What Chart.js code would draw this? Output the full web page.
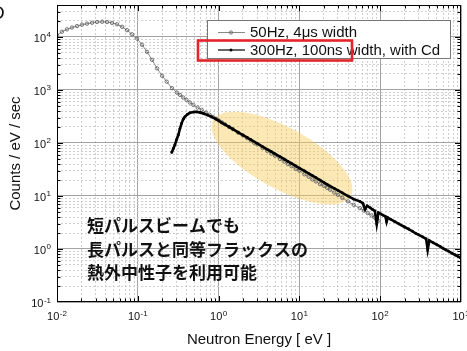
<!DOCTYPE html>
<html>
<head>
<meta charset="utf-8">
<script src="https://cdn.jsdelivr.net/npm/chart.js@4/dist/chart.umd.min.js"></script>
<style>
  html, body { margin: 0; padding: 0; background: #ffffff; }
  #wrap { width: 467px; height: 351px; position: relative; }
</style>
</head>
<body>
<div id="wrap"><canvas id="c" width="467" height="351"></canvas></div>
<script>
// ---- spectrum data: neutron energy [eV] and counts / eV / sec ----
const energy50Hz = [
  0.0100, 0.0115, 0.0133, 0.0153, 0.0177, 0.0204, 0.0235, 0.0272, 0.0313, 0.0362,
  0.0416, 0.0480, 0.0553, 0.0640, 0.0735, 0.0850, 0.098, 0.113, 0.130, 0.150,
  0.173, 0.200, 0.228, 0.265, 0.305, 0.333, 0.365, 0.400, 0.440, 0.486,
  0.550, 0.618, 0.700, 0.775, 0.850, 0.925, 1.00, 1.10, 1.20, 1.35,
  1.50, 1.75, 2.00, 2.25, 2.50, 2.75, 3.00, 3.50, 4.00, 4.50,
  5.00, 5.75, 6.50, 7.20, 8.00, 9.00, 10.0, 11.5, 13.0, 14.5,
  16.0, 18.0, 20.0, 22.0, 24.0, 27.0, 30.0, 34.0, 40.0, 47.0,
  56.0, 63.0, 70.0, 78.0, 85.0, 90.0, 95.0
];
const counts50Hz = [
  10700, 12500, 13900, 15000, 16000, 17000, 17800, 18500, 19100, 19300,
  19100, 18400, 17300, 15500, 13400, 11200, 9300, 7100, 5240, 3700,
  2550, 1850, 1430, 1080, 890, 805, 720, 650, 580, 523,
  465, 422, 375, 340, 310, 287, 267, 244, 225, 200,
  183, 156, 139, 123, 112, 101, 94, 80, 71, 63,
  57.5, 49.8, 44.5, 40.1, 36.5, 32.4, 30, 25.6, 23, 20.5,
  18.8, 16.7, 15.5, 14.2, 13.1, 11.6, 10.5, 9.2, 7.9, 6.8,
  5.9, 5.3, 4.75, 4.3, 3.95, 3.65, 3.4
];
const energy300Hz = [
  0.263, 0.275, 0.288, 0.302, 0.317, 0.332, 0.348, 0.365, 0.382, 0.410,
  0.442, 0.490, 0.535, 0.590, 0.646, 0.730, 0.820, 0.920, 1.00, 1.10,
  1.20, 1.35, 1.50, 1.75, 2.00, 2.25, 2.50, 3.00, 3.50, 4.00,
  4.50, 5.00, 5.75, 6.50, 7.20, 8.00, 9.00, 10.0, 11.5, 13.0,
  14.5, 16.0, 18.0, 20.0, 22.0, 24.0, 27.0, 30.0, 34.0, 40.0,
  47.0, 56.0, 61.0, 65.0, 69.0, 75.0, 80.0, 86.0, 90.6, 95.0,
  100, 108, 116, 120, 124, 135, 150, 170, 200, 225,
  250, 275, 300, 335, 370, 387, 405, 450, 500, 550,
  600, 650, 700, 775, 850, 925, 1000
];
const counts300Hz = [
  66, 78, 92, 115, 141, 185, 234, 280, 311, 345,
  370, 383, 386, 375, 360, 335, 311, 284, 264, 240,
  222, 200, 182, 158, 141, 127, 115, 98, 85.5, 75.9,
  68.4, 62.2, 55, 49.3, 45, 41, 36.9, 33.6, 29.7, 26.6,
  24.1, 22.1, 19.9, 18.1, 16.6, 15.3, 13.9, 12.7, 11.4, 9.96,
  8.7, 7.9, 7.3, 5.6, 6.5, 6.0, 5.6, 5.2, 2.95, 4.85,
  4.66, 4.37, 4.11, 3.25, 3.89, 3.62, 3.31, 2.98, 2.60, 2.38,
  2.16, 1.97, 1.85, 1.69, 1.55, 0.96, 1.44, 1.32, 1.21, 1.12,
  1.03, 0.96, 0.91, 0.83, 0.77, 0.72, 0.67
];

const seriesLabels = ['50Hz, 4\u03bcs width', '300Hz, 100ns width, with Cd'];

// axis ranges and labelled decades (10^n)
const xMin = 0.01, xMax = 1000;
const yMin = 0.1, yMax = 40000;
const xDecades = [-2, -1, 0, 1, 2, 3];
const yDecades = [-1, 0, 1, 2, 3, 4];
const xTitle = 'Neutron Energy [ eV ]';
const yTitle = 'Counts / eV / sec';

// highlighted epithermal band: ends of the long axis (energy, counts)
const bandEnergy = [0.855, 43.4];
const bandCounts = [268, 10.1];

const noteLines = ['短パルスビームでも', '長パルスと同等フラックスの', '熱外中性子を利用可能'];

// ---- helpers ----
function logTicks(decades, max) {
  const out = [];
  decades.forEach(d => {
    const base = Math.pow(10, d);
    for (let m = 1; m <= 9; m++) {
      const v = m * base;
      if (v <= max * 1.0000001) out.push(v);
    }
  });
  return out;
}
function isMajor(v) {
  const l = Math.log10(v);
  return Math.abs(l - Math.round(l)) < 1e-9;
}
function pairs(xs, ys) { return xs.map((x, i) => ({ x: x, y: ys[i] })); }

const FONT = '"Liberation Sans", Arial, sans-serif';

function drawPow(ctx, exp, x, y, mode) {
  // "10" with a raised exponent; mode 'center' (x axis) or 'right' (y axis)
  const base = '10', sup = String(exp);
  ctx.font = '11px ' + FONT;
  const wb = ctx.measureText(base).width;
  ctx.font = '8px ' + FONT;
  const ws = ctx.measureText(sup).width;
  const total = wb + ws + 0.5;
  const x0 = mode === 'center' ? x - total / 2 : x - total;
  ctx.textAlign = 'left';
  ctx.textBaseline = 'alphabetic';
  ctx.font = '11px ' + FONT;
  ctx.fillText(base, x0, y);
  ctx.font = '8px ' + FONT;
  ctx.fillText(sup, x0 + wb + 0.5, y - 4.5);
}

const decor = {
  id: 'decor',
  beforeDatasetsDraw(chart) {
    const ctx = chart.ctx, ca = chart.chartArea;
    const sx = chart.scales.x, sy = chart.scales.y;
    const x1 = sx.getPixelForValue(bandEnergy[0]), y1 = sy.getPixelForValue(bandCounts[0]);
    const x2 = sx.getPixelForValue(bandEnergy[1]), y2 = sy.getPixelForValue(bandCounts[1]);
    const cx = (x1 + x2) / 2, cy = (y1 + y2) / 2;
    const a = Math.hypot(x2 - x1, y2 - y1) / 2;
    const ang = Math.atan2(y2 - y1, x2 - x1);
    ctx.save();
    ctx.beginPath();
    ctx.rect(ca.left, ca.top, ca.width, ca.height);
    ctx.clip();
    ctx.beginPath();
    ctx.ellipse(cx, cy, a, 30.6, ang, 0, Math.PI * 2);
    ctx.fillStyle = 'rgba(246, 203, 90, 0.45)';
    ctx.fill();
    ctx.restore();
  },
  afterDraw(chart) {
    const ctx = chart.ctx, ca = chart.chartArea;
    const sx = chart.scales.x, sy = chart.scales.y;
    const L = Math.round(ca.left), R = Math.round(ca.right);
    const T = Math.round(ca.top), B = Math.round(ca.bottom);
    ctx.save();

    // frame
    ctx.strokeStyle = '#000';
    ctx.lineWidth = 1;
    ctx.strokeRect(L + 0.5, T + 0.5, R - L - 1, B - T - 1);

    // inward tick marks on all four sides
    ctx.beginPath();
    sx.ticks.forEach(t => {
      const p = Math.round(sx.getPixelForValue(t.value)) + 0.5;
      if (p < L + 1 || p > R - 1) return;
      const len = isMajor(t.value) ? 6 : 3.5;
      ctx.moveTo(p, B); ctx.lineTo(p, B - len);
      ctx.moveTo(p, T); ctx.lineTo(p, T + len);
    });
    sy.ticks.forEach(t => {
      const p = Math.round(sy.getPixelForValue(t.value)) + 0.5;
      if (p < T + 1 || p > B - 1) return;
      const len = isMajor(t.value) ? 6 : 3.5;
      ctx.moveTo(L, p); ctx.lineTo(L + len, p);
      ctx.moveTo(R, p); ctx.lineTo(R - len, p);
    });
    ctx.stroke();

    // tick labels
    ctx.fillStyle = '#111';
    xDecades.forEach(d => {
      drawPow(ctx, d, sx.getPixelForValue(Math.pow(10, d)), B + 18, 'center');
    });
    yDecades.forEach(d => {
      drawPow(ctx, d, L - 6, sy.getPixelForValue(Math.pow(10, d)) + 5, 'right');
    });

    // axis titles
    ctx.fillStyle = '#111';
    ctx.font = '15px ' + FONT;
    ctx.textAlign = 'center';
    ctx.textBaseline = 'alphabetic';
    ctx.fillText(xTitle, (L + R) / 2, 344);
    ctx.save();
    ctx.translate(15.5, (T + B) / 2);
    ctx.rotate(-Math.PI / 2);
    ctx.textBaseline = 'middle';
    ctx.fillText(yTitle, 0, 0);
    ctx.restore();

    // panel letter at the corner
    ctx.font = '19px ' + FONT;
    ctx.textAlign = 'left';
    ctx.fillText('D', -9, 19);

    // legend box
    const lx = L + 150, ly = T + 15, lw = 243, lh = 38;
    ctx.fillStyle = '#fff';
    ctx.fillRect(lx, ly, lw, lh);
    ctx.strokeStyle = '#777';
    ctx.lineWidth = 1;
    ctx.strokeRect(lx + 0.5, ly + 0.5, lw, lh);
    const rows = [ly + 12.5, ly + 30];
    chart.data.datasets.forEach((ds, i) => {
      const ry = rows[i];
      ctx.strokeStyle = ds.borderColor;
      ctx.lineWidth = i === 0 ? 1 : 1.2;
      ctx.beginPath();
      ctx.moveTo(lx + 11, ry); ctx.lineTo(lx + 38, ry);
      ctx.stroke();
      ctx.beginPath();
      ctx.arc(lx + 24, ry, i === 0 ? 1.6 : 1.5, 0, Math.PI * 2);
      if (i === 0) { ctx.strokeStyle = ds.pointBorderColor; ctx.lineWidth = 0.8; ctx.stroke(); }
      else { ctx.fillStyle = '#000'; ctx.fill(); }
      ctx.fillStyle = '#111';
      ctx.font = '15px ' + FONT;
      ctx.textAlign = 'left';
      ctx.textBaseline = 'middle';
      ctx.fillText(ds.label, lx + 43, ry + 0.5);
    });

    // red highlight around the second entry
    ctx.strokeStyle = '#e3242b';
    ctx.lineWidth = 2.6;
    ctx.strokeRect(L + 141, T + 35.5, 154, 20);

    // note text
    ctx.fillStyle = '#111';
    ctx.font = 'bold 17px "Noto Sans CJK JP", sans-serif';
    ctx.textAlign = 'left';
    ctx.textBaseline = 'middle';
    noteLines.forEach((s, i) => ctx.fillText(s, L + 30, 226 + i * 23.3));

    ctx.restore();
  }
};

const gridColor = c => (c.tick && isMajor(c.tick.value)) ? '#a4a4a4' : '#cfcfcf';
const gridDash = c => (c.tick && isMajor(c.tick.value)) ? [] : [2, 2];

new Chart(document.getElementById('c'), {
  type: 'scatter',
  data: {
    datasets: [
      {
        label: seriesLabels[0],
        data: pairs(energy50Hz, counts50Hz),
        showLine: true,
        borderColor: '#8a8a8a',
        borderWidth: 1,
        pointRadius: 1.7,
        pointBorderColor: '#555555',
        pointBackgroundColor: 'rgba(255,255,255,0)',
        pointBorderWidth: 0.8,
        order: 1
      },
      {
        label: seriesLabels[1],
        data: pairs(energy300Hz, counts300Hz),
        showLine: true,
        borderColor: '#000000',
        borderWidth: 2.6,
        pointRadius: 1.4,
        pointBackgroundColor: '#000000',
        pointBorderWidth: 0,
        order: 0
      }
    ]
  },
  options: {
    responsive: false,
    animation: false,
    devicePixelRatio: 1,
    layout: { padding: { left: 57, right: 6, top: 5, bottom: 49 } },
    plugins: { legend: { display: false }, tooltip: { enabled: false } },
    scales: {
      x: {
        type: 'logarithmic', min: xMin, max: xMax,
        afterBuildTicks: s => { s.ticks = logTicks(xDecades, xMax).map(v => ({ value: v })); },
        ticks: { display: false },
        grid: { drawTicks: false, color: gridColor, lineWidth: 1 },
        border: { display: false, dash: gridDash }
      },
      y: {
        type: 'logarithmic', min: yMin, max: yMax,
        afterBuildTicks: s => { s.ticks = logTicks(yDecades, yMax).map(v => ({ value: v })); },
        ticks: { display: false },
        grid: { drawTicks: false, color: gridColor, lineWidth: 1 },
        border: { display: false, dash: gridDash }
      }
    }
  },
  plugins: [decor]
});
</script>
</body>
</html>
